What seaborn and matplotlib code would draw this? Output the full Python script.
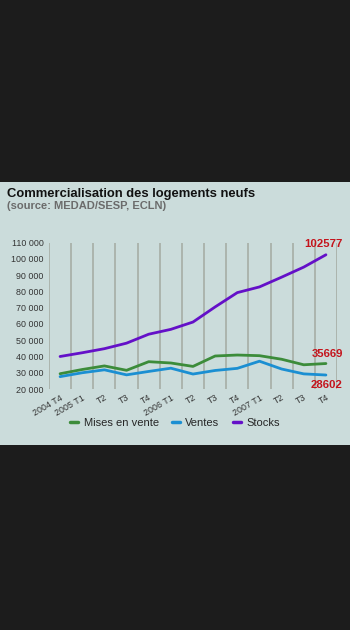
import matplotlib
matplotlib.use("Agg")
import matplotlib.pyplot as plt
import matplotlib.patches as mpatches
from matplotlib.ticker import FuncFormatter, FixedLocator
import matplotlib.transforms as mtransforms
import seaborn as sns
import pandas as pd

quarters = ["2004 T4", "2005 T1", "T2", "T3", "T4", "2006 T1", "T2", "T3", "T4",
            "2007 T1", "T2", "T3", "T4"]
mises_en_vente = [29400, 32000, 34200, 31500, 36800, 36000, 33900, 40300, 40900, 40500, 38300, 34900, 35669]
ventes = [27600, 30000, 31800, 28700, 30800, 32800, 29200, 31400, 32700, 37100, 32300, 29300, 28602]
stocks = [40000, 42300, 44800, 48200, 53700, 56700, 61200, 70500, 79300, 82800, 88800, 95000, 102577]
series_names = ["Mises en vente", "Ventes", "Stocks"]
end_labels = ["35669", "28602", "102577"]

sns.set_theme(style="white")
plt.rcParams['font.family'] = ['Liberation Sans', 'DejaVu Sans']

rows = []
for name, vals in zip(series_names, [mises_en_vente, ventes, stocks]):
    for i, v in enumerate(vals):
        rows.append({"idx": i, "value": v, "serie": name})
df = pd.DataFrame(rows)

fig = plt.figure(figsize=(3.5, 6.3), dpi=100)
fig.patch.set_facecolor("#1c1c1c")
W, H = 350, 630
panel_color = "#cbdcdb"
fig.patches.append(mpatches.Rectangle((0, (H - 445) / H), 1, (445 - 182) / H,
                                      transform=fig.transFigure, facecolor=panel_color,
                                      edgecolor="none", zorder=-10))

left, right = 49 / W, 337 / W
top_px, bot_px = 242.7, 389
ax = fig.add_axes([left, (H - bot_px) / H, right - left, (bot_px - top_px) / H])
ax.set_facecolor("none")
ax.set_zorder(5)

palette = {"Mises en vente": "#3c8c3a", "Ventes": "#1b8fd2", "Stocks": "#6410c8"}
sns.lineplot(data=df, x="idx", y="value", hue="serie", palette=palette, ax=ax,
             linewidth=2.0, legend=True, zorder=3)

ax.set_xlim(-0.5, 12.5)
ax.set_ylim(20000, 110000)
ax.set_yticks(range(20000, 110001, 10000))
ax.yaxis.set_major_formatter(FuncFormatter(lambda v, p: f"{int(v):,}".replace(",", " ")))
ax.set_xticks(range(len(quarters)))
ax.set_xticklabels(quarters, rotation=30, ha="right", rotation_mode="anchor")
ax.xaxis.set_minor_locator(FixedLocator([i - 0.5 for i in range(len(quarters) + 1)]))
ax.grid(False)
ax.grid(True, which="minor", axis="x", color="#a9b1aa", linewidth=1.3, zorder=1)
for s in ax.spines.values():
    s.set_visible(False)
ax.tick_params(axis="both", which="both", length=0, labelsize=6.4, labelcolor="#333333")
ax.tick_params(axis="y", pad=4)
ax.tick_params(axis="x", pad=3)
ax.set_xlabel("")
ax.set_ylabel("")

red = "#c4141c"
shift = mtransforms.offset_copy(ax.transData, fig=fig, x=7, y=0, units="dots")
ax.text(12.45, 102577 + 3500, end_labels[2], color=red, fontsize=8.2, fontweight="bold",
        ha="right", va="bottom", transform=shift)
ax.text(12.45, 35669 + 2500, end_labels[0], color=red, fontsize=8.2, fontweight="bold",
        ha="right", va="bottom", transform=shift)
ax.text(12.45, 28602 - 3000, end_labels[1], color=red, fontsize=8.2, fontweight="bold",
        ha="right", va="top", transform=shift)

handles, labels = ax.get_legend_handles_labels()
for h in handles:
    h.set_linewidth(2.5)
ax.legend(handles, labels, loc="center", bbox_to_anchor=(175 / W, (H - 423) / H),
          bbox_transform=fig.transFigure, ncol=3, frameon=False, fontsize=8,
          handlelength=0.7, handletextpad=0.5, columnspacing=1.2)

fig.text(7 / W, (H - 196.5) / H, "Commercialisation des logements neufs", fontsize=9.4,
         fontweight="bold", color="#111111", ha="left", va="baseline")
fig.text(7 / W, (H - 208.5) / H, "(source: MEDAD/SESP, ECLN)", fontsize=8.0,
         fontweight="bold", color="#6b6b6b", ha="left", va="baseline")

fig.savefig("out.png", dpi=100, facecolor=fig.get_facecolor())
